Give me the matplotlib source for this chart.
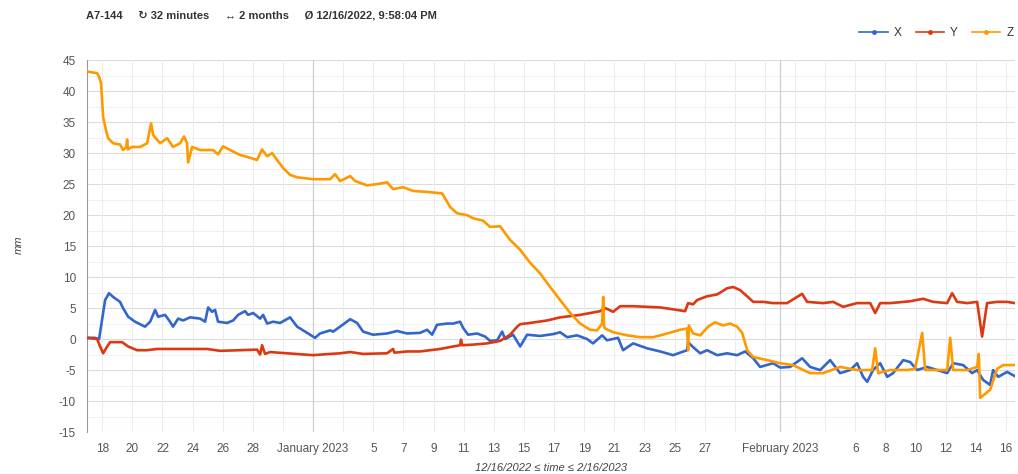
import matplotlib
matplotlib.use('Agg')
import matplotlib.pyplot as plt
from matplotlib.lines import Line2D

plt.rcParams['font.family'] = ['Liberation Sans', 'DejaVu Sans']
plt.rcParams['axes.unicode_minus'] = False

# days since 2022-12-16 00:00, values in mm
x_days = [0.95, 1.5, 1.79, 1.99, 2.19, 2.45, 2.72, 3.18, 3.38, 3.72, 4.18, 4.84, 5.18, 5.51, 5.71,
          6.17, 6.50, 6.70, 7.04, 7.37, 7.83, 8.50, 8.83, 9.03, 9.29, 9.49, 9.69, 10.29, 10.69,
          11.02, 11.48, 11.68, 12.02, 12.48, 12.68, 12.95, 13.34, 13.81, 14.47, 14.94, 15.60,
          16.13, 16.46, 17.13, 17.33, 17.79, 18.46, 18.92, 19.32, 19.98, 20.91, 21.58, 22.24,
          23.10, 23.57, 23.90, 24.23, 24.90, 25.30, 25.76, 25.96, 26.29, 26.89, 27.42, 27.75,
          28.22, 28.55, 28.75, 29.28, 29.75, 30.21, 31.07, 31.94, 32.40, 32.87, 33.53, 34.19,
          34.59, 35.19, 35.52, 36.25, 36.58, 37.25, 38.18, 39.04, 39.90, 40.83, 40.90, 41.23,
          41.70, 42.16, 42.83, 43.49, 44.15, 44.69, 45.22, 45.68, 46.54, 47.01, 47.67, 48.47,
          49.00, 49.67, 50.33, 50.99, 51.66, 52.12, 52.52, 52.79, 53.18, 53.65, 54.12, 54.51,
          55.18, 55.64, 56.11, 56.77, 57.43, 58.10, 58.50, 59.16, 59.76, 60.09, 60.49, 60.95,
          61.15, 61.49, 62.08, 62.6]
x_mm = [0.2, 0.2, 0.0, 3.1, 6.3, 7.4, 6.8, 6.0, 5.0, 3.6, 2.8, 2.0, 2.8, 4.7, 3.6,
        3.9, 2.8, 2.0, 3.3, 3.0, 3.5, 3.3, 2.8, 5.1, 4.4, 4.7, 2.8, 2.6, 3.0,
        3.9, 4.5, 3.9, 4.2, 3.3, 3.9, 2.5, 2.8, 2.6, 3.5, 2.0, 1.0,
        0.2, 0.9, 1.4, 1.2, 2.0, 3.2, 2.6, 1.2, 0.7, 0.9, 1.3, 0.9,
        1.0, 1.5, 0.7, 2.3, 2.5, 2.5, 2.8, 1.8, 0.7, 0.9, 0.4, -0.3,
        -0.2, 1.2, 0.0, 0.7, -1.2, 0.7, 0.5, 0.8, 1.1, 0.3, 0.6, 0.0,
        -0.7, 0.6, -0.2, 0.2, -1.8, -0.7, -1.5, -2.0, -2.6, -1.8, -0.5, -1.3,
        -2.3, -1.8, -2.6, -2.3, -2.6, -2.0, -3.1, -4.5, -3.9, -4.6, -4.5, -3.1,
        -4.5, -5.0, -3.4, -5.5, -5.0, -3.9, -6.1, -6.9, -5.0, -3.9, -6.1, -5.5,
        -3.4, -3.7, -5.0, -4.5, -5.0, -5.5, -3.9, -4.2, -5.5, -5.0, -6.6, -7.4,
        -5.0, -6.1, -5.3, -6.0]

y_days = [0.95, 1.66, 1.86, 2.06, 2.25, 2.52, 3.32, 3.72, 4.31, 4.98, 5.64, 7.17, 7.83, 8.96,
          9.82, 11.15, 12.28, 12.48, 12.61, 12.81, 13.14, 14.27, 16.00, 17.13, 17.79, 18.46,
          19.32, 20.91, 21.31, 21.40, 22.24, 23.10, 24.43, 25.30, 25.76, 25.82, 25.90, 26.62,
          27.55, 28.42, 29.08, 29.55, 29.75, 30.41, 31.54, 32.40, 33.07, 33.73, 35.06, 35.39,
          35.92, 36.39, 37.25, 38.18, 39.04, 39.90, 40.70, 40.90, 41.23, 41.50, 42.16, 42.83,
          43.49, 43.89, 44.35, 44.82, 45.22, 45.88, 46.54, 47.47, 48.47, 48.80, 49.86, 50.53,
          51.19, 52.12, 52.99, 53.32, 53.65, 54.31, 54.78, 55.64, 56.50, 57.17, 58.10, 58.43,
          58.76, 59.43, 60.09, 60.42, 60.75, 61.42, 62.08, 62.6]
y_mm = [0.2, 0.0, -1.2, -2.3, -1.5, -0.5, -0.5, -1.2, -1.8, -1.8, -1.6, -1.6, -1.6, -1.6,
        -1.9, -1.8, -1.7, -2.5, -1.0, -2.4, -2.1, -2.3, -2.6, -2.4, -2.3, -2.1,
        -2.4, -2.3, -1.6, -2.2, -2.0, -2.0, -1.6, -1.2, -1.0, -0.1, -1.0, -0.9,
        -0.7, -0.3, 0.7, 2.0, 2.4, 2.6, 3.0, 3.5, 3.7, 3.9, 4.5, 5.0,
        4.4, 5.3, 5.3, 5.2, 5.1, 4.8, 4.5, 5.8, 5.6, 6.3, 6.9, 7.2,
        8.2, 8.4, 7.9, 6.9, 6.0, 6.0, 5.8, 5.8, 7.3, 6.0, 5.8, 6.0,
        5.2, 5.8, 5.8, 4.2, 5.8, 5.8, 5.9, 6.1, 6.5, 6.0, 5.8, 7.4,
        6.0, 5.8, 6.0, 0.4, 5.8, 6.0, 6.0, 5.8]

z_days = [0.95, 1.39, 1.66, 1.79, 1.92, 1.99, 2.06, 2.25, 2.39, 2.72, 3.18, 3.38, 3.60, 3.65,
          3.70, 3.98, 4.51, 4.98, 5.24, 5.38, 5.84, 6.31, 6.70, 7.17, 7.43, 7.63, 7.70, 7.97,
          8.50, 9.36, 9.69, 10.02, 10.49, 11.15, 11.62, 12.28, 12.61, 12.95, 13.28, 13.61,
          14.01, 14.47, 14.94, 16.00, 17.13, 17.46, 17.79, 18.46, 18.79, 19.59, 20.25, 20.91,
          21.31, 21.98, 22.64, 23.77, 24.57, 25.10, 25.56, 26.23, 26.62, 27.29, 27.75, 28.42,
          29.08, 29.75, 30.41, 31.07, 31.74, 32.40, 33.07, 33.73, 34.39, 34.86, 35.19, 35.26,
          35.32, 35.39, 35.92, 36.85, 37.73, 38.58, 39.51, 40.37, 40.83, 40.90, 40.95, 41.23,
          41.70, 42.23, 42.69, 43.22, 43.69, 44.15, 44.49, 44.82, 45.22, 46.15, 47.01, 47.87,
          48.54, 49.00, 49.86, 50.99, 52.12, 53.12, 53.32, 53.52, 54.31, 55.44, 55.97, 56.44,
          56.64, 57.43, 58.10, 58.30, 58.50, 59.43, 60.09, 60.20, 60.29, 60.95, 61.42, 61.82,
          62.6]
z_mm = [43.2, 43.0, 42.9, 42.3, 41.3, 38.5, 35.8, 33.7, 32.4, 31.6, 31.4, 30.5, 31.0, 32.2,
        30.6, 31.0, 31.0, 31.6, 34.8, 32.9, 31.6, 32.4, 31.0, 31.6, 32.7, 31.6, 28.5, 31.0,
        30.5, 30.5, 29.8, 31.1, 30.5, 29.7, 29.4, 28.9, 30.6, 29.5, 30.0, 28.9,
        27.6, 26.5, 26.1, 25.8, 25.8, 26.6, 25.5, 26.3, 25.5, 24.8, 25.0, 25.3,
        24.2, 24.5, 23.9, 23.7, 23.5, 21.3, 20.3, 20.0, 19.5, 19.1, 18.1, 18.2,
        16.0, 14.4, 12.3, 10.6, 8.4, 6.3, 4.2, 2.5, 1.5, 1.4, 2.5, 6.8,
        2.0, 1.7, 1.1, 0.6, 0.3, 0.3, 0.9, 1.5, 1.7, -1.8, 2.2, 0.9,
        0.6, 2.0, 2.7, 2.2, 2.5, 2.0, 1.0, -1.8, -2.9, -3.4, -3.9, -4.2,
        -5.0, -5.5, -5.5, -4.5, -5.0, -5.0, -1.5, -5.5, -5.0, -5.0, -4.8, 1.0,
        -5.0, -5.0, -5.0, 0.2, -5.0, -5.0, -4.5, -2.4, -9.5, -8.2, -4.8, -4.2,
        -4.2]

tick_days = [2, 4, 6, 8, 10, 12, 16, 20, 22, 24, 26, 28, 30, 32, 34, 36, 38, 40, 42,
             47, 52, 54, 56, 58, 60, 62]
tick_labels = ['18', '20', '22', '24', '26', '28', 'January 2023', '5', '7', '9', '11', '13',
               '15', '17', '19', '21', '23', '25', '27', 'February 2023', '6', '8', '10',
               '12', '14', '16']
grid_days = [2, 4, 6, 8, 10, 12, 14, 18, 20, 22, 24, 26, 28, 30, 32, 34, 36, 38, 40, 42, 44,
             46, 48, 50, 52, 54, 56, 58, 60, 62]

colors = {'X': '#3366cc', 'Y': '#dc3912', 'Z': '#ff9900'}

fig = plt.figure(figsize=(10.18, 4.74), dpi=100)
ax = fig.add_axes([0.0855, 0.0886, 0.9115, 0.7844])

# gridlines
for v in range(-15, 46, 5):
    ax.axhline(v, color='#dcdcdc', lw=0.8, zorder=0)
for v in [-12.5, -7.5, -2.5, 2.5, 7.5, 12.5, 17.5, 22.5, 27.5, 32.5, 37.5, 42.5]:
    ax.axhline(v, color='#f0f0f0', lw=0.7, zorder=0)
for d in grid_days:
    ax.axvline(d, color='#ececec', lw=0.7, zorder=0)
for d in [16, 47]:
    ax.axvline(d, color='#cfcfcf', lw=0.9, zorder=0)

ax.plot(x_days, x_mm, color=colors['X'], lw=1.9, zorder=3)
ax.plot(y_days, y_mm, color=colors['Y'], lw=1.9, zorder=3)
ax.plot(z_days, z_mm, color=colors['Z'], lw=1.9, zorder=4)

ax.set_xlim(0.99, 62.6)
ax.set_ylim(-15, 45)
ax.set_yticks(range(-15, 46, 5))
ax.set_xticks(tick_days)
ax.set_xticklabels(tick_labels)
ax.tick_params(axis='both', length=0, labelsize=8.5, labelcolor='#555555')
ax.tick_params(axis='x', pad=8)
ax.tick_params(axis='y', pad=8)

for s in ['top', 'right', 'bottom']:
    ax.spines[s].set_visible(False)
ax.spines['left'].set_color('#999999')
ax.spines['left'].set_linewidth(0.8)

ax.set_xlabel('12/16/2022 \u2264 time \u2264 2/16/2023', fontsize=8, style='italic',
              color='#444444', labelpad=6)
fig.text(0.018, 0.483, 'mm', rotation=90, fontsize=8, style='italic', color='#444444',
         ha='center', va='center')

fig.text(0.0845, 0.968, 'A7-144     \u21bb 32 minutes     \u2194 2 months     \u00d8 12/16/2022, 9:58:04 PM',
         fontsize=8, weight='bold', color='#333333', ha='left', va='center')

handles = [Line2D([0], [0], color=colors[k], lw=1.2, marker='o', markersize=2.5) for k in ['X', 'Y', 'Z']]
fig.legend(handles, ['X', 'Y', 'Z'], loc='center right', bbox_to_anchor=(1.006, 0.93), ncol=3,
           frameon=False, fontsize=8.5, handlelength=2.4, columnspacing=1.2, handletextpad=0.5,
           labelcolor='#333333')

plt.savefig('out.png', dpi=100)
